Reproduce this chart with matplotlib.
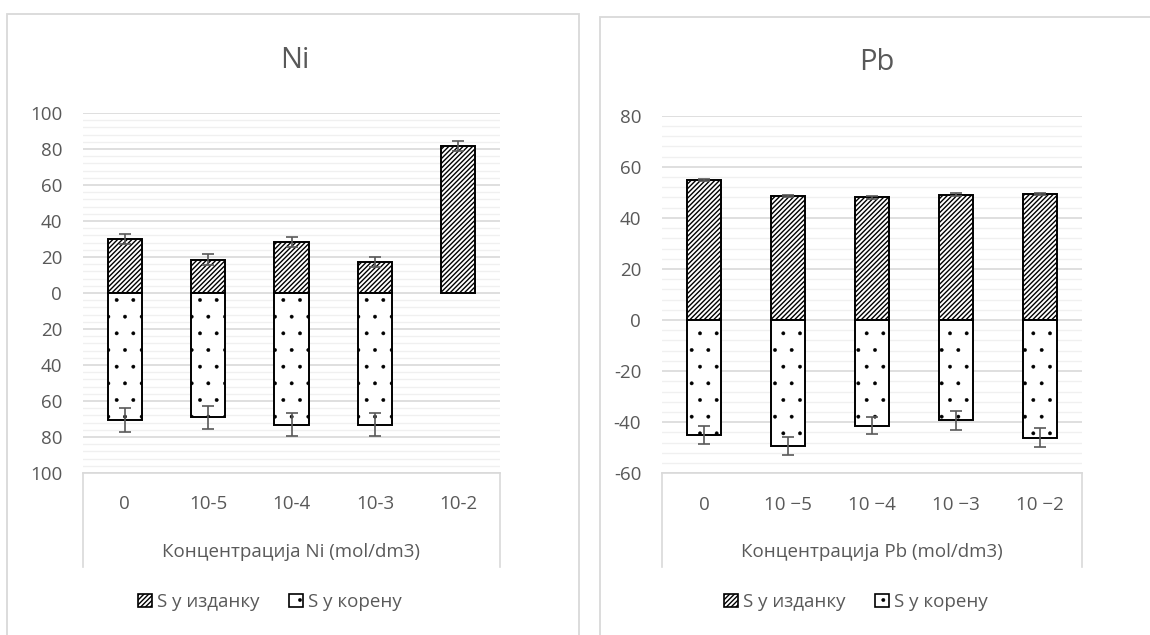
import matplotlib

matplotlib.use("Agg")
import matplotlib.pyplot as plt
import numpy as np
from matplotlib.patches import Rectangle, Patch
from matplotlib.lines import Line2D

plt.rcParams["font.family"] = ["Open Sans", "DejaVu Sans"]
plt.rcParams["hatch.linewidth"] = 1.0

W, H = 1150, 635

# --- data ---
ni_labels = ["0", "10-5", "10-4", "10-3", "10-2"]
ni_shoot = [29.8, 18.5, 28.2, 17.2, 81.7]
ni_shoot_err = [2.8, 3.0, 2.8, 2.9, 2.6]
ni_root = [70.6, 69.1, 73.1, 73.3, np.nan]
ni_root_err = [6.6, 6.5, 6.5, 6.4, np.nan]

pb_labels = ["0", "10 \u22125", "10 \u22124", "10 \u22123", "10 \u22122"]
pb_shoot = [54.9, 48.5, 48.0, 49.1, 49.3]
pb_shoot_err = [0.5, 0.5, 0.5, 0.5, 0.5]
pb_root = [45.1, 49.3, 41.3, 39.3, 46.1]
pb_root_err = [3.6, 3.4, 3.5, 3.7, 3.7]

TXT = "#595959"
GRID = "#D9D9D9"
MINOR = "#F0F0F0"
DIAG = "///////"
DOTS = "."


def fx(px):
    return px / W


def fy(py):
    return 1 - py / H


def thin_hatch(bars, lw):
    for b in bars:
        if hasattr(b, "set_hatch_linewidth"):
            b.set_hatch_linewidth(lw)


def panel(fig, box, frame, title, labels, shoot, shoot_err, root, root_err,
          ylim, yticks, yticklabels, xlabel, legend_x):
    x0, y0, x1, y1 = box
    ax = fig.add_axes([fx(x0), fy(y1), fx(x1) - fx(x0), fy(y0) - fy(y1)])

    # chart frame
    fl, ft, fr, fb = frame
    fig.add_artist(Rectangle((fx(fl), fy(fb)), fx(fr) - fx(fl), fy(ft) - fy(fb),
                             transform=fig.transFigure, fill=False,
                             edgecolor=GRID, lw=1.3))

    x = np.arange(len(labels))
    ax.set_xlim(-0.5, len(labels) - 0.5)
    ax.set_ylim(*ylim)

    # gridlines
    for v in np.arange(ylim[0], ylim[1] + 0.1, 4):
        if v % 20 == 0:
            ax.axhline(v, color=GRID, lw=1.2, zorder=1)
        else:
            ax.axhline(v, color=MINOR, lw=1.0, zorder=0.5)

    neg_root = [-v for v in root]
    ax.bar(x, shoot, width=0.41, color="white", edgecolor="black", lw=1.4,
           hatch=DIAG, zorder=3)
    dots = ax.bar(x, neg_root, width=0.41, color="white", edgecolor="black", lw=1.4,
                  hatch=DOTS, zorder=3)
    thin_hatch(dots, 0.3)
    ax.errorbar(x, shoot, yerr=shoot_err, fmt="none", ecolor=TXT, elinewidth=1.2,
                capsize=4.5, capthick=1.2, zorder=4)
    ax.errorbar(x, neg_root, yerr=root_err, fmt="none", ecolor=TXT, elinewidth=1.2,
                capsize=4.5, capthick=1.2, zorder=4)

    for s in ["top", "right", "left"]:
        ax.spines[s].set_visible(False)
    ax.spines["bottom"].set_color(GRID)
    ax.spines["bottom"].set_linewidth(1.2)

    ax.set_yticks(yticks)
    ax.set_yticklabels(yticklabels)
    ax.set_xticks(x)
    ax.set_xticklabels(labels)
    ax.tick_params(axis="y", length=0, pad=15, labelsize=13.5, labelcolor=TXT)
    ax.tick_params(axis="x", length=0, pad=16, labelsize=13.5, labelcolor=TXT)

    # light box around the category axis area
    for xp in (x0, x1):
        fig.add_artist(Line2D([fx(xp), fx(xp)], [fy(y1), fy(567)],
                              transform=fig.transFigure, color=GRID, lw=1.2))

    fig.text(fx((x0 + x1) / 2), fy(552), xlabel, ha="center", va="center",
             fontsize=13.5, color=TXT)
    fig.text(fx((fl + min(fr, 1150)) / 2 + 2), fy(ft + 46), title, ha="center",
             va="center", fontsize=21, color=TXT)

    handles = [Patch(facecolor="white", edgecolor="black", hatch=DIAG, lw=1.2),
               Patch(facecolor="white", edgecolor="black", hatch=DOTS, lw=1.2)]
    leg = fig.legend(handles, ["S у изданку", "S у корену"], loc="center",
                     bbox_to_anchor=(fx(legend_x), fy(602)), ncol=2, frameon=False,
                     fontsize=13.5, labelcolor=TXT, handlelength=0.75,
                     handleheight=0.75, handletextpad=0.25, columnspacing=1.6)
    thin_hatch(leg.get_patches()[1:], 0.3)
    return ax


fig = plt.figure(figsize=(W / 100, H / 100), dpi=100)

ni_ticks = list(range(-100, 101, 20))
panel(fig, (83, 113, 500, 473), (7, 14, 579, 700), "Ni", ni_labels,
      ni_shoot, ni_shoot_err, ni_root, ni_root_err, (-100, 100), ni_ticks,
      [str(abs(t)) for t in ni_ticks], "Концентрација Ni (mol/dm3)", 270)

pb_ticks = list(range(-60, 81, 20))
panel(fig, (662, 115.7, 1082, 473.3), (600, 17, 1200, 700), "Pb", pb_labels,
      pb_shoot, pb_shoot_err, pb_root, pb_root_err, (-60, 80), pb_ticks,
      [str(t) for t in pb_ticks], "Концентрација Pb (mol/dm3)", 856)

fig.savefig("out.png", dpi=100)
